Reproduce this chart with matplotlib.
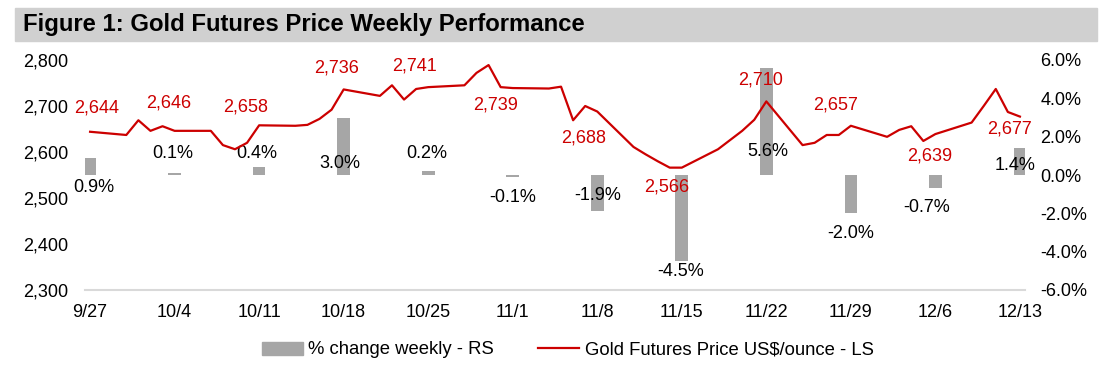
import numpy as np
import matplotlib
matplotlib.use("Agg")
import matplotlib.pyplot as plt
import matplotlib.dates as mdates
from matplotlib.patches import Rectangle
from matplotlib.lines import Line2D
from matplotlib.patches import Patch

plt.rcParams['font.family'] = ['Liberation Sans', 'DejaVu Sans']

# daily gold futures price (trading days)
days = ["2024-09-27", "2024-09-30", "2024-10-01", "2024-10-02", "2024-10-03", "2024-10-04",
        "2024-10-07", "2024-10-08", "2024-10-09", "2024-10-10", "2024-10-11",
        "2024-10-14", "2024-10-15", "2024-10-16", "2024-10-17", "2024-10-18",
        "2024-10-21", "2024-10-22", "2024-10-23", "2024-10-24", "2024-10-25",
        "2024-10-28", "2024-10-29", "2024-10-30", "2024-10-31", "2024-11-01",
        "2024-11-04", "2024-11-05", "2024-11-06", "2024-11-07", "2024-11-08",
        "2024-11-11", "2024-11-12", "2024-11-13", "2024-11-14", "2024-11-15",
        "2024-11-18", "2024-11-19", "2024-11-20", "2024-11-21", "2024-11-22",
        "2024-11-25", "2024-11-26", "2024-11-27", "2024-11-28", "2024-11-29",
        "2024-12-02", "2024-12-03", "2024-12-04", "2024-12-05", "2024-12-06",
        "2024-12-09", "2024-12-10", "2024-12-11", "2024-12-12", "2024-12-13"]
price = [2644, 2637, 2669, 2646, 2656, 2646,
         2646, 2615, 2606, 2620, 2658,
         2657, 2659, 2672, 2692, 2736,
         2722, 2745, 2714, 2737, 2741,
         2745, 2772, 2789, 2741, 2739,
         2738, 2742, 2669, 2700, 2688,
         2611, 2595, 2580, 2566, 2566,
         2606, 2626, 2646, 2670, 2710,
         2615, 2620, 2637, 2637, 2657,
         2633, 2648, 2656, 2624, 2639,
         2664, 2700, 2737, 2687, 2677]

# weekly values
weeks = ["2024-09-27", "2024-10-04", "2024-10-11", "2024-10-18", "2024-10-25", "2024-11-01",
         "2024-11-08", "2024-11-15", "2024-11-22", "2024-11-29", "2024-12-06", "2024-12-13"]
week_labels = ["9/27", "10/4", "10/11", "10/18", "10/25", "11/1",
               "11/8", "11/15", "11/22", "11/29", "12/6", "12/13"]
weekly_change = [0.9, 0.1, 0.4, 3.0, 0.2, -0.1, -1.9, -4.5, 5.6, -2.0, -0.7, 1.4]
weekly_price = [2644, 2646, 2658, 2736, 2741, 2739, 2688, 2566, 2710, 2657, 2639, 2677]

# label offsets in pixels (dx, dy), dy positive = down
price_off = [(7, -24), (-6, -28), (-14, -18), (-7, -21), (-14, -21), (-17, 17),
             (-14, 26), (-15, 19), (-6, -21), (-15, -21), (-6, 22), (-10, 12)]
pct_off = [(4, 12), (-2, -21), (-2, -21), (-4, -12), (-1, -22), (0, 22),
           (0, 20), (-1, 97), (1, -24), (0, 58), (-9, 32), (-5, -9)]

red = "#cc0000"
grey = "#a6a6a6"

d = mdates.date2num(np.array(days, dtype="datetime64[D]"))
w = mdates.date2num(np.array(weeks, dtype="datetime64[D]"))

fig = plt.figure(figsize=(11.09, 3.66), dpi=100)
W, H = 1109, 366
ax = fig.add_axes([85 / W, 1 - 290 / H, (1025 - 85) / W, (290 - 60) / H])
ax2 = ax.twinx()

# title band
fig.patches.append(Rectangle((15 / W, 1 - 41 / H), (1097 - 15) / W, 33 / H,
                             transform=fig.transFigure, color="#d0d0d0", zorder=0))
fig.text(23 / W, 1 - 25 / H, "Figure 1: Gold Futures Price Weekly Performance",
         fontsize=17.2, fontweight="bold", va="center", ha="left")

ax2.bar(w, weekly_change, width=1.05, color=grey, zorder=1)
ax.plot(d, price, color=red, lw=1.6, zorder=3)

# put line axis above bars
ax.set_zorder(ax2.get_zorder() + 1)
ax.patch.set_visible(False)

ax.set_ylim(2300, 2800)
ax.set_yticks(range(2300, 2801, 100))
ax.set_yticklabels([f"{v:,}" for v in range(2300, 2801, 100)])
ax2.set_ylim(-6, 6)
ax2.set_yticks(range(-6, 7, 2))
ax2.set_yticklabels([f"{v:.1f}%" for v in range(-6, 7, 2)])
ax.set_xlim(w[0] - 0.42, w[-1] + 0.42)
ax.set_xticks(w)
ax.set_xticklabels(week_labels)

for a in (ax, ax2):
    for s in a.spines.values():
        s.set_visible(False)
    a.tick_params(length=0, labelsize=13)
ax.spines["bottom"].set_visible(True)
ax.spines["bottom"].set_color("#d9d9d9")
ax.spines["bottom"].set_linewidth(1.5)
ax.tick_params(axis="y", pad=12)
ax.tick_params(axis="x", pad=10)
ax2.tick_params(axis="y", pad=11)

k = 0.72  # px -> pt
for x, p, (dx, dy) in zip(w, weekly_price, price_off):
    ax.annotate(f"{p:,}", (x, p), xytext=(dx * k, -dy * k), textcoords="offset points",
                ha="center", va="center", color=red, fontsize=13, zorder=5)
for x, c, (dx, dy) in zip(w, weekly_change, pct_off):
    ax2.annotate(f"{c:.1f}%", (x, 0), xytext=(dx * k, -dy * k), textcoords="offset points",
                 ha="center", va="center", color="black", fontsize=13)

handles = [Patch(color=grey), Line2D([], [], color=red, lw=1.6)]
fig.legend(handles, ["% change weekly - RS", "Gold Futures Price US$/ounce - LS"],
           loc="center", bbox_to_anchor=(0.512, 1 - 350 / H), ncol=2, frameon=False,
           fontsize=13.3, handlelength=2.2, handleheight=0.7, columnspacing=2.4, handletextpad=0.3)

fig.savefig("out.png", dpi=100)
